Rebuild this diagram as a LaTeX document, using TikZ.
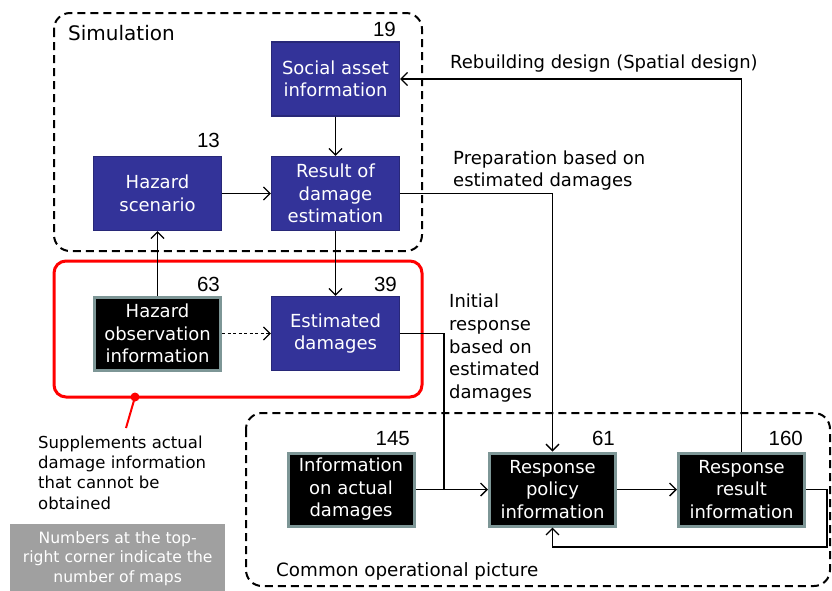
\documentclass[tikz,border=0pt]{standalone}
\usepackage{fontspec}
\setmainfont{DejaVu Sans}
\newfontfamily\numfont{Liberation Sans}
\usetikzlibrary{arrows.meta}
\definecolor{boxblue}{RGB}{51,51,153}
\definecolor{blueedge}{RGB}{40,40,120}
\definecolor{boxedge}{RGB}{125,150,150}
\definecolor{notegray}{RGB}{160,160,160}
\begin{document}
\begin{tikzpicture}[x=1pt,y=-1pt,
  bluebox/.style={draw=blueedge, fill=boxblue, line width=1.2pt, text=white,
    minimum width=128pt, minimum height=74pt, align=center, inner sep=0pt,
    font=\fontsize{18}{22.5}\selectfont},
  blackbox/.style={draw=boxedge, fill=black, line width=3pt, text=white,
    minimum width=126pt, minimum height=73pt, align=center, inner sep=0pt,
    font=\fontsize{18}{22.5}\selectfont},
  num/.style={font=\numfont\fontsize{20.5}{20}\selectfont, anchor=base east, inner sep=0pt},
  conn/.style={line width=1.3pt, -{Straight Barb[length=6.5pt,width=13pt,line width=1.3pt]}},
  plain/.style={line width=1.3pt},
  lbl/.style={font=\fontsize{18}{22.5}\selectfont, align=left, anchor=base west, inner sep=0pt},
  group/.style={draw, dash pattern=on 8pt off 5pt, line width=2pt, rounded corners=16pt}
]
\useasboundingbox (0,0) rectangle (832,590);

% group frames
\draw[group] (54,13) rectangle (422,251);
\draw[red, line width=3pt, rounded corners=12pt] (54,261) rectangle (422,397);
\draw[group] (246,413) rectangle (830,586);

\node[lbl, font=\fontsize{20}{24}\selectfont] (simlbl) at (68,40) {Simulation};
\node[lbl, font=\fontsize{18.3}{22}\selectfont] (coplbl) at (276,576) {Common operational picture};

% boxes
\node[bluebox] (social) at (335.5,79) {Social asset\\information};
\node[bluebox] (hazscen) at (157.5,193.5) {Hazard\\scenario};
\node[bluebox] (result) at (335.5,193.5) {Result of\\damage\\estimation};
\node[blackbox] (hazobs) at (157.5,333.5) {Hazard\\observation\\information};
\node[bluebox] (estim) at (335.5,333.5) {Estimated\\damages};
\node[blackbox] (actual) at (351,489.5) {Information\\on actual\\damages};
\node[blackbox] (policy) at (552.5,489.5) {Response\\policy\\information};
\node[blackbox] (resres) at (741.5,489.5) {Response\\result\\information};

% numbers
\node[num] (n19) at (396,36) {19};
\node[num] (n13) at (220,147) {13};
\node[num] (n63) at (220,291) {63};
\node[num] (n39) at (397,291) {39};
\node[num] (n145) at (410,445) {145};
\node[num] (n61) at (615,445) {61};
\node[num] (n160) at (803,445) {160};

% connectors
\draw[conn] (social) -- (result);
\draw[conn] (hazscen) -- (result);
\draw[conn] (hazobs) -- (hazscen);
\draw[conn] (result) -- (estim);
\draw[conn, dash pattern=on 3pt off 2.5pt] (hazobs) -- (estim);
\draw[conn] (estim.east) -| (444,489.5) -- (policy.west);
\draw[plain] (actual.east) -- (444,489.5);
\draw[conn] (result.east) -| (policy.north);
\draw[conn] (policy) -- (resres);
\draw[conn] (resres.north) |- (social.east);
\draw[conn] (resres.east) -| (827,547) -| (policy.south);

% labels
\node[lbl] (rebuild) at (450,68) {Rebuilding design (Spatial design)};
\node[lbl, anchor=north west, font=\fontsize{18}{22}\selectfont] (prep) at (453,151) {Preparation based on\\estimated damages};
\node[lbl, anchor=north west, font=\fontsize{18}{22.6}\selectfont] (initial) at (449,294) {Initial\\response\\based on\\estimated\\damages};

% note
\fill[red] (135,397) circle (4.5pt);
\coordinate (notetip) at (126,428);
\draw[red, line width=2pt] (135,397) -- (notetip);
\node[lbl, anchor=north west, font=\fontsize{16.5}{20.3}\selectfont] (supp) at (38,435.5) {Supplements actual\\damage information\\that cannot be\\obtained};
\node[fill=notegray, minimum width=215pt, minimum height=68pt, anchor=north west, inner sep=0pt, text=white, align=center, font=\fontsize{15.6}{19.5}\selectfont] (note) at (10,524) {Numbers at the top-\\right corner indicate the\\number of maps};
\end{tikzpicture}
\end{document}
